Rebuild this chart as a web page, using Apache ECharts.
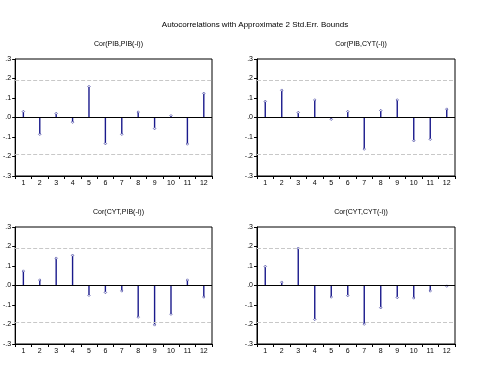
<!DOCTYPE html>
<html><head><meta charset="utf-8">
<script src="https://cdn.jsdelivr.net/npm/echarts@6/dist/echarts.min.js"></script>
<style>html,body{margin:0;padding:0;background:#fff}#c{width:499px;height:369px}</style>
</head><body><div id="c"></div>
<script>
var lags = ['1','2','3','4','5','6','7','8','9','10','11','12'];
var yTicks = [-0.3,-0.2,-0.1,0,0.1,0.2,0.3];
var bound = 0.188;
var mainTitle = 'Autocorrelations with Approximate 2 Std.Err. Bounds';
var panelTitles = ['Cor(PIB,PIB(-i))','Cor(PIB,CYT(-i))','Cor(CYT,PIB(-i))','Cor(CYT,CYT(-i))'];
var pibPib = [0.031,-0.086,0.021,-0.024,0.159,-0.134,-0.086,0.028,-0.057,0.009,-0.136,0.124];
var pibCyt = [0.083,0.140,0.026,0.090,-0.009,0.031,-0.162,0.036,0.090,-0.119,-0.112,0.043];
var cytPib = [0.074,0.028,0.140,0.155,-0.050,-0.036,-0.028,-0.162,-0.202,-0.147,0.028,-0.059];
var cytCyt = [0.098,0.017,0.191,-0.174,-0.059,-0.052,-0.198,-0.114,-0.062,-0.064,-0.028,-0.003];
var seriesData = [pibPib,pibCyt,cytPib,cytCyt];

var FONT = 'Liberation Sans, Arial, sans-serif';
var grids = [
  {left:15, top:59, width:197, height:117},
  {left:257, top:59, width:198, height:117},
  {left:15, top:227, width:197, height:117},
  {left:257, top:227, width:198, height:117}
];
function fmt(v){
  var r = Math.round(v*10);
  if (r===0) return '.0';
  return (r<0?'-':'') + '.' + Math.abs(r);
}
var option = {
  backgroundColor:'#fff',
  animation:false,
  title: [{text: mainTitle, left: 250, top: 16, textAlign:'center',
    textStyle:{fontFamily:FONT,fontSize:8,fontWeight:'normal',color:'#000'}}],
  grid: [], xAxis: [], yAxis: [], series: []
};
grids.forEach(function(g,i){
  option.grid.push({left:g.left, top:g.top, width:g.width, height:g.height, show:true,
    borderColor:'#000', borderWidth:1, containLabel:false});
  option.title.push({text: panelTitles[i], left: g.left + g.width/2, top: g.top-23, textAlign:'center',
    textStyle:{fontFamily:FONT,fontSize:7,fontWeight:'normal',color:'#000'}});
  option.xAxis.push({type:'category', gridIndex:i, data:lags, boundaryGap:true,
    axisLine:{onZero:false, lineStyle:{color:'#000',width:1}},
    axisTick:{show:true, interval:0, length:3, inside:false, lineStyle:{color:'#000'}},
    axisLabel:{interval:0, fontFamily:FONT, fontSize:7, color:'#000', margin:4},
    splitLine:{show:false}});
  option.yAxis.push({type:'value', gridIndex:i, min:-0.3, max:0.3, interval:0.1,
    axisLine:{show:true, lineStyle:{color:'#000',width:1}},
    axisTick:{show:true, length:3, lineStyle:{color:'#000'}},
    axisLabel:{fontFamily:FONT, fontSize:7, color:'#000', margin:4, formatter:fmt},
    splitLine:{show:false}});
  option.series.push({type:'bar', xAxisIndex:i, yAxisIndex:i, data:seriesData[i],
    barWidth:1.4, itemStyle:{color:'#1a1a8c'},
    markLine:{silent:true, symbol:'none', label:{show:false},
      data:[
        {yAxis:bound, lineStyle:{color:'#c8c8c8', type:[4,2], width:1}},
        {yAxis:-bound, lineStyle:{color:'#c8c8c8', type:[4,2], width:1}},
        {yAxis:0, lineStyle:{color:'#000', type:'solid', width:1}}
      ]}});
  option.series.push({type:'scatter', xAxisIndex:i, yAxisIndex:i, data:seriesData[i],
    symbol:'diamond', symbolSize:2.5, z:3,
    itemStyle:{color:'#fff', borderColor:'#1a1a8c', borderWidth:0.7}});
});
var chart = echarts.init(document.getElementById('c'), null, {renderer:'canvas'});
chart.setOption(option);
</script></body></html>
